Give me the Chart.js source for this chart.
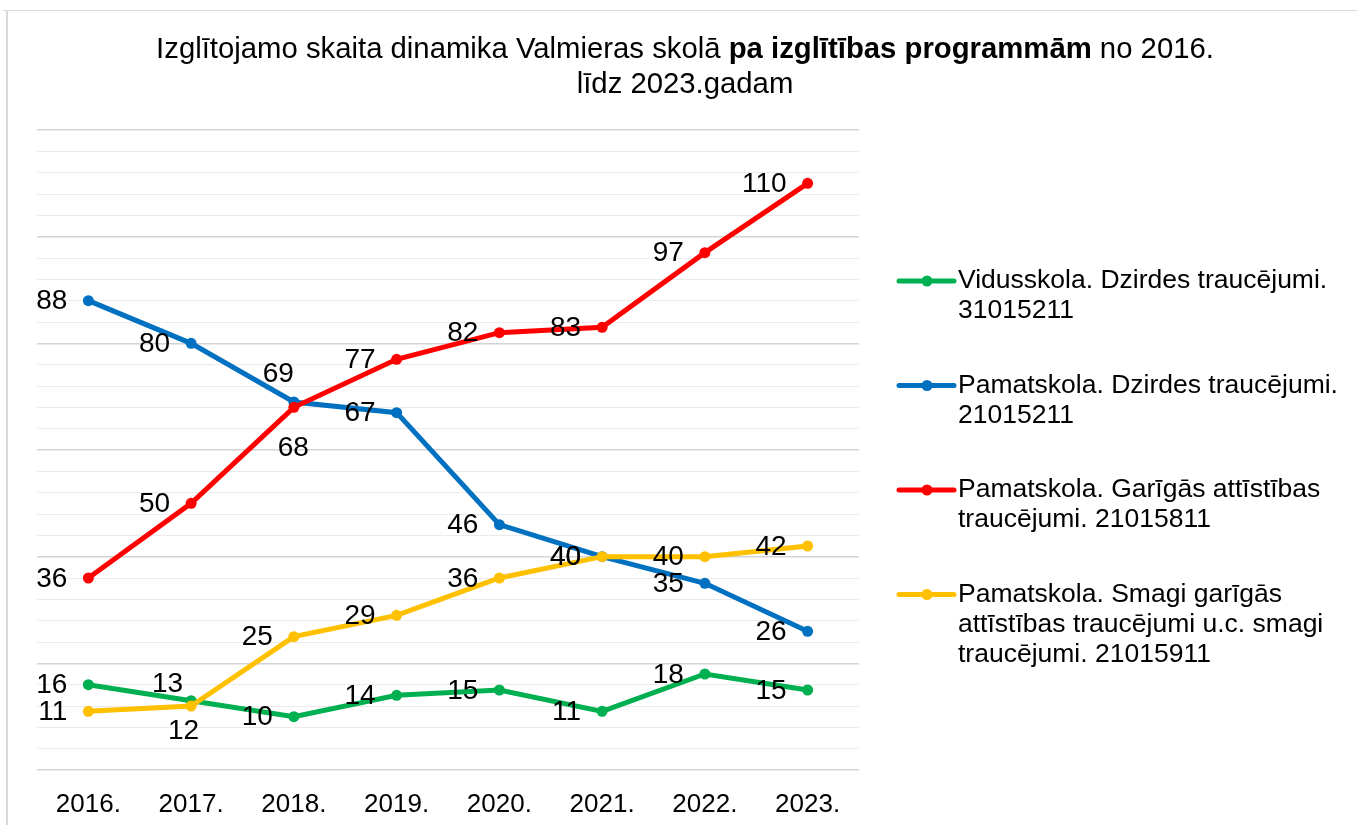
<!DOCTYPE html>
<html><head><meta charset="utf-8">
<script src="https://cdn.jsdelivr.net/npm/chart.js@4"></script>
<style>html,body{margin:0;padding:0;background:#fff;} canvas{display:block;}</style>
</head><body>
<canvas id="c" width="1357" height="825"></canvas>
<script>
// ---- data ----
const categories = ['2016.', '2017.', '2018.', '2019.', '2020.', '2021.', '2022.', '2023.'];
const seriesNames = [
  ['Vidusskola. Dzirdes traucējumi.', '31015211'],
  ['Pamatskola. Dzirdes traucējumi.', '21015211'],
  ['Pamatskola. Garīgās attīstības', 'traucējumi. 21015811'],
  ['Pamatskola. Smagi garīgās', 'attīstības traucējumi u.c. smagi', 'traucējumi. 21015911']
];
const vidusskolaDzirdes = [16, 13, 10, 14, 15, 11, 18, 15];
const pamatskolaDzirdes = [88, 80, 69, 67, 46, 40, 35, 26];
const pamatskolaGarigas = [36, 50, 68, 77, 82, 83, 97, 110];
const pamatskolaSmagi = [11, 12, 25, 29, 36, 40, 40, 42];
const yMin = 0, yMax = 120, yStep = 4, yMajorStep = 20;
const titleParts = [
  [{t: 'Izglītojamo skaita dinamika Valmieras skolā ', b: false}, {t: 'pa izglītības programmām', b: true}, {t: ' no 2016.', b: false}],
  [{t: 'līdz 2023.gadam', b: false}]
];

// ---- styles ----
const FONT = "'Liberation Sans', Arial, sans-serif";
const colors = ['#00B050', '#0070C0', '#FF0000', '#FFC000'];
// label placement per series: [dx, dy] relative to point (text right-aligned, vertically centered)
const L = [-21, 0];
const labelPlacement = [
  [L, [-8, -17], L, L, L, L, L, L],
  [L, L, [0, -29], L, L, L, L, L],
  [L, L, [15, 40], L, L, L, L, L],
  [L, [8, 24], L, L, L, L, L, L]
];

const allSeries = [vidusskolaDzirdes, pamatskolaDzirdes, pamatskolaGarigas, pamatskolaSmagi];

const frame = {
  id: 'frame',
  beforeDraw(chart) {
    const ctx = chart.ctx;
    ctx.save();
    ctx.fillStyle = '#fff';
    ctx.fillRect(0, 0, chart.width, chart.height);
    ctx.strokeStyle = '#d9d9d9';
    ctx.lineWidth = 1;
    ctx.beginPath(); ctx.moveTo(3, 10.5); ctx.lineTo(chart.width, 10.5); ctx.stroke();
    ctx.lineWidth = 2;
    ctx.beginPath(); ctx.moveTo(7, 10); ctx.lineTo(7, chart.height); ctx.stroke();
    ctx.restore();
  }
};

const titlePlugin = {
  id: 'mixedTitle',
  afterDraw(chart) {
    const ctx = chart.ctx;
    ctx.save();
    ctx.fillStyle = '#000';
    ctx.textBaseline = 'alphabetic';
    ctx.textAlign = 'left';
    const cx = 685;
    const size = 29.3;
    const baselines = [57.5, 92.5];
    titleParts.forEach((parts, li) => {
      let total = 0;
      parts.forEach(p => { ctx.font = (p.b ? 'bold ' : '') + size + 'px ' + FONT; p.w = ctx.measureText(p.t).width; total += p.w; });
      let x = cx - total / 2;
      parts.forEach(p => { ctx.font = (p.b ? 'bold ' : '') + size + 'px ' + FONT; ctx.fillText(p.t, x, baselines[li]); x += p.w; });
    });
    ctx.restore();
  }
};

const legendPlugin = {
  id: 'sideLegend',
  afterDraw(chart) {
    const ctx = chart.ctx;
    ctx.save();
    let y = 281;
    const lineH = 30;
    chart.data.datasets.forEach((ds, i) => {
      ctx.strokeStyle = ds.borderColor;
      ctx.lineWidth = 5;
      ctx.lineCap = 'round';
      ctx.beginPath(); ctx.moveTo(899, y); ctx.lineTo(954, y); ctx.stroke();
      ctx.fillStyle = ds.borderColor;
      ctx.beginPath(); ctx.arc(927, y, 5.5, 0, Math.PI * 2); ctx.fill();
      ctx.fillStyle = '#000';
      ctx.font = '26.5px ' + FONT;
      ctx.textAlign = 'left';
      ctx.textBaseline = 'middle';
      seriesNames[i].forEach((t, k) => ctx.fillText(t, 958, y + k * lineH));
      y += 104.5;
    });
    ctx.restore();
  }
};

const labelPlugin = {
  id: 'pointLabels',
  afterDatasetsDraw(chart) {
    const ctx = chart.ctx;
    ctx.save();
    ctx.fillStyle = '#000';
    ctx.font = '28px ' + FONT;
    ctx.textAlign = 'right';
    ctx.textBaseline = 'middle';
    chart.data.datasets.forEach((ds, i) => {
      const meta = chart.getDatasetMeta(i);
      meta.data.forEach((pt, j) => {
        const [dx, dy] = labelPlacement[i][j];
        ctx.fillText(String(ds.data[j]), pt.x + dx, pt.y + dy + 1);
      });
    });
    ctx.restore();
  }
};

new Chart(document.getElementById('c'), {
  type: 'line',
  data: {
    labels: categories,
    datasets: allSeries.map((d, i) => ({
      label: seriesNames[i].join(' '),
      data: d,
      borderColor: colors[i],
      backgroundColor: colors[i],
      pointBackgroundColor: colors[i],
      pointBorderColor: colors[i],
      borderWidth: 5,
      pointRadius: 5.5,
      pointBorderWidth: 0,
      tension: 0,
      order: 4 - i,
      clip: false
    }))
  },
  options: {
    responsive: false,
    devicePixelRatio: 1,
    animation: false,
    layout: { padding: { left: 37, right: 498, top: 130, bottom: 0 } },
    plugins: { legend: { display: false }, title: { display: false }, tooltip: { enabled: false } },
    scales: {
      x: {
        type: 'category',
        offset: true,
        grid: { display: false },
        border: { display: false },
        ticks: { color: '#000', font: { family: FONT, size: 26, lineHeight: 1.2 }, padding: 11, maxRotation: 0, autoSkip: false },
        afterFit(s) { s.height = 55; }
      },
      y: {
        min: yMin, max: yMax,
        border: { display: false },
        ticks: { display: false, stepSize: yStep },
        grid: {
          drawTicks: false,
          color: c => (c.tick.value % yMajorStep === 0 ? '#d4d4d4' : '#ebebeb'),
          lineWidth: c => (c.tick.value % yMajorStep === 0 ? 1.5 : 1)
        },
        afterFit(s) { s.width = 0; }
      }
    }
  },
  plugins: [frame, titlePlugin, legendPlugin, labelPlugin]
});
</script>
</body></html>
